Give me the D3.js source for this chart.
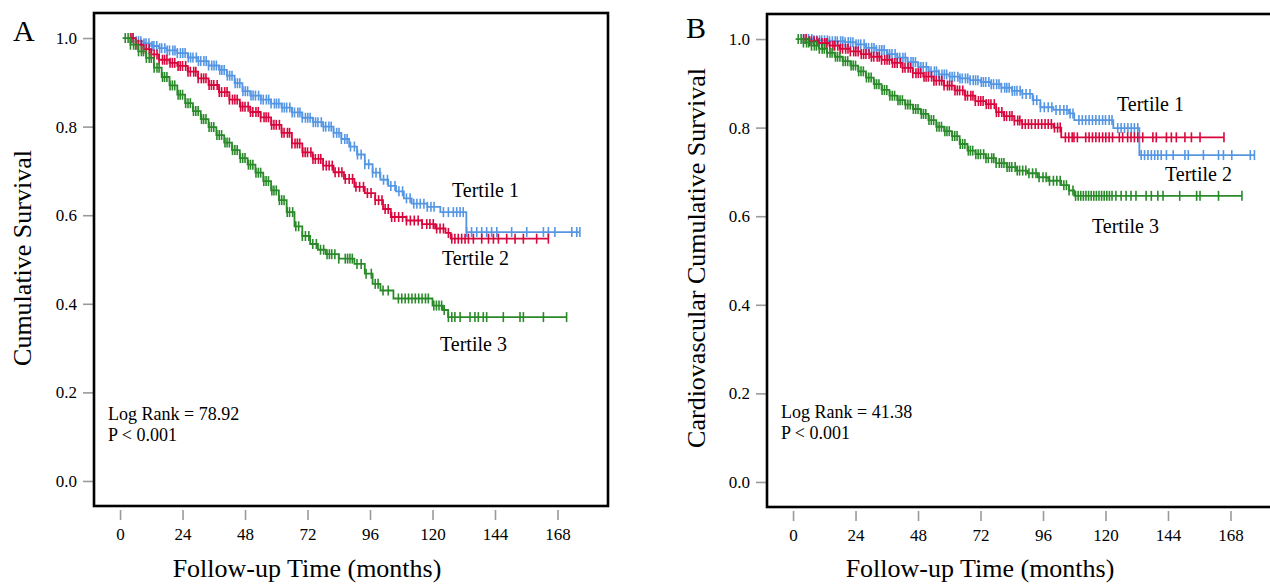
<!DOCTYPE html>
<html><head><meta charset="utf-8">
<script src="https://cdn.jsdelivr.net/npm/d3@7"></script>
<style>
html,body{margin:0;padding:0;background:#fff;}
svg text{font-family:"Liberation Serif","Times New Roman",serif;fill:#000;}
</style></head>
<body>
<svg id="chart" width="1270" height="585"></svg>
<script>
// ---------- DATA ----------
const xTicks = [0, 24, 48, 72, 96, 120, 144, 168];
const yTicks = [0.0, 0.2, 0.4, 0.6, 0.8, 1.0];
const seriesNames = ["Tertile 1", "Tertile 2", "Tertile 3"];
const seriesColors = ["#5596E4", "#D8073D", "#2A8A2A"];

// Panel A: all-cause survival. Knots = [month, survival after event]
const A1_steps = [[3,1.0],[6,0.993],[9,0.988],[12,0.982],[15,0.977],[18,0.972],[22,0.966],[26,0.956],[30,0.948],[34,0.938],[38,0.928],[41,0.915],[44,0.898],[47,0.880],[50,0.870],[54,0.861],[58,0.852],[62,0.843],[66,0.832],[70,0.820],[74,0.810],[78,0.800],[82,0.786],[85,0.772],[88,0.755],[91,0.737],[94,0.715],[97,0.696],[100,0.680],[103,0.666],[106,0.654],[109,0.638],[112,0.626],[118,0.619],[123,0.607],[133,0.562]];
const A1_censor = [4,5,6.2,7.1,8,9.2,10,11.1,12.3,13,14.1,15.2,16,17.2,18.1,19,20.3,21.1,22,23.2,24.1,25,26.2,27.1,28,29.3,30.1,31,32.2,33.1,34,35.2,36.1,37,38.3,39.1,40,41.2,42.1,43,44.2,45.1,46,47.2,48.1,49,50.3,51.1,52,53.2,54.1,55,56.2,57.1,58,59.3,60.1,61,62.2,63.1,64,65.2,66.1,67,68.3,69.1,70,71.2,72.1,73,74.2,75.1,76,77.3,78.1,79,80.2,81.1,82,83.2,84.1,85,86.3,87.2,88.5,90,91.2,92.6,94,95.5,97,98.3,99.8,101.2,102.7,104,105.6,107.1,108.5,110,111.4,112.8,114,115.3,116.7,118,119.4,120.6,124.2,126.1,128,129.3,130.6,131.8,133.1,135,137,138.9,140.8,142.7,144.7,150.4,156.2,162.6,164.5,167,173.5,175.4,176.6];

const A2_steps = [[3,1.0],[6,0.985],[9,0.975],[12,0.963],[15,0.951],[19,0.944],[22,0.937],[26,0.924],[30,0.909],[34,0.894],[38,0.878],[42,0.861],[46,0.845],[50,0.833],[54,0.821],[58,0.804],[62,0.786],[66,0.762],[70,0.742],[74,0.727],[78,0.712],[82,0.697],[86,0.682],[90,0.664],[94,0.650],[98,0.634],[101,0.614],[104,0.596],[110,0.588],[116,0.580],[121,0.570],[125,0.560],[127,0.547]];
const A2_censor = [4.2,5,6.1,7,8.2,9,10.1,11.2,12,13.1,14.2,15,16.3,17.1,18,19.2,20.1,21,22.3,23.1,24,25.2,26.1,27,28.3,29.1,30,31.2,32.1,33,34.2,35.1,36,37.3,38.1,39,40.2,41.1,42,43.2,44.1,45,46.3,47.1,48,49.2,50.1,51,52.2,53.1,54,55.3,56.1,57,58.2,59.1,60,61.2,62.1,63,64.3,65.1,66,67.2,68.1,69,70.2,71.1,72,73.3,74.1,75,76.2,77.1,78,79.2,80.3,81.5,82.6,84,85.2,86.5,88,89.3,90.6,92,93.5,95,96.4,98,99.3,100.6,101.8,103,104.3,105.5,107,108.5,110,111.5,113,114.5,116,117.8,119,120.3,121.6,122.9,124.2,126.1,127.4,128.6,129.9,131.2,132.5,133.8,135.7,138.9,141.5,143.4,145.3,148.5,151.7,154.9,160,164.5];

const A3_steps = [[1,1.0],[4,0.985],[7,0.970],[10,0.955],[13,0.933],[16,0.912],[19,0.893],[22,0.872],[25,0.853],[28,0.835],[31,0.817],[34,0.799],[37,0.781],[40,0.764],[43,0.747],[46,0.729],[49,0.714],[52,0.696],[55,0.677],[58,0.656],[61,0.634],[64,0.607],[67,0.575],[70,0.553],[73,0.535],[76,0.522],[79,0.512],[84,0.502],[90,0.490],[94,0.468],[97,0.445],[100,0.430],[105,0.412],[120,0.396],[124,0.386],[126,0.370]];
const A3_censor = [2,3.1,4,5.2,6,7.1,8.2,9,10.1,11.2,12,13.1,14.2,15,16.3,17.1,18,19.2,20.1,21,22.3,23.1,24,25.2,26.1,27,28.2,29.1,30,31.3,32.1,33,34.2,35.1,36,37.2,38.1,39,40.3,41.1,42,43.2,44.1,45,46.2,47.1,48,49.3,50.1,51,52.2,53.1,54,55.2,56.1,57,58.3,59.1,60,61.2,62.1,63,64.2,65.1,66.3,67.5,68.6,70,71.2,72.5,74,75.4,77,78.2,79.5,80.4,81.3,82.5,84,86.5,87.4,88.3,89.2,91,92.6,94.5,96.5,98,99.1,101,103,106.9,108.2,109.5,110.8,112.1,113.4,114.7,116,117.3,118.4,120.5,121.5,122.5,123.5,124.5,126.1,127.4,128.6,130.6,134.4,136.3,137.6,139.5,140.8,147.2,153.6,154.9,162.6,171.5];

// Panel B: cardiovascular survival
const B1_steps = [[3,1.0],[8,0.997],[14,0.995],[20,0.993],[24,0.988],[28,0.980],[32,0.975],[36,0.966],[40,0.958],[44,0.948],[48,0.937],[52,0.927],[56,0.920],[60,0.915],[64,0.911],[68,0.907],[72,0.903],[76,0.898],[80,0.890],[84,0.883],[88,0.876],[92,0.862],[95,0.846],[100,0.840],[106,0.832],[108,0.817],[123,0.799],[133,0.738]];
const B1_censor = [4,5.1,6,7.2,8,9.1,10.2,11,12.1,13.2,14,15.1,16.2,17,18.3,19.1,20,21.2,22.1,23,24.2,25.1,26,27.3,28.1,29,30.2,31.1,32,33.2,34.1,35,36.3,37.1,38,39.2,40.1,41,42.2,43.1,44,45.3,46.1,47,48.2,49.1,50,51.2,52.1,53,54.3,55.1,56,57.2,58.1,59,60.2,61.1,62,63.3,64.1,65,66.2,67.1,68,69.2,70.1,71,72.3,73.1,74,75.2,76.1,77,78.2,79.1,80,81.3,82.1,83,84.2,85.1,86,87.2,88.1,89.5,91,92.3,93.6,95,96.5,98,99.4,101,102.5,104,105.2,106.4,107.5,109.8,111.1,112.4,113.7,115,116.3,117.6,118.9,120,121.4,122.5,124.7,126,127.3,128.6,129.9,131.1,132.4,133.7,135,136.3,137.6,138.9,140.1,141.4,143.4,146,150.5,151.8,157.6,163.4,165.3,168.5,175.6,177.2];

const B2_steps = [[3,1.0],[6,0.995],[10,0.991],[14,0.985],[18,0.978],[22,0.972],[26,0.966],[30,0.960],[34,0.953],[38,0.946],[42,0.935],[46,0.923],[50,0.915],[54,0.906],[58,0.895],[62,0.884],[66,0.872],[70,0.860],[74,0.853],[78,0.835],[81,0.826],[85,0.816],[88,0.808],[100,0.800],[103,0.778]];
const B2_censor = [4.1,5,6.2,7,8.1,9.2,10,11.1,12.2,13,14.1,15.3,16,17.2,18.1,19,20.2,21.1,22,23.3,24.1,25,26.2,27.1,28,29.2,30.1,31,32.3,33.1,34,35.2,36.1,37,38.2,39.1,40,41.3,42.1,43,44.2,45.1,46,47.2,48.1,49,50.3,51.1,52,53.2,54.1,55,56.2,57.1,58,59.3,60.1,61,62.2,63.1,64,65.2,66.1,67,68.3,69.1,70,71.2,72.1,73,74.2,75.1,76,77.3,78.1,79,80.2,81.1,82,83.2,84.1,85,86.3,87.1,88,89.2,90.4,91.6,93,94.2,95.5,96.8,98,99.2,100.4,101.6,102.6,104.6,105.9,107.2,107.9,109.2,112.4,113.7,115,116.3,117.6,118.9,120.1,121.4,122.7,125.3,126.6,128.5,129.8,131.1,132.4,134.3,138.2,139.5,143.4,145.3,147.2,150.5,153,156.3,165.5];

const B3_steps = [[1,1.0],[4,0.992],[7,0.985],[10,0.978],[13,0.969],[16,0.960],[19,0.950],[22,0.940],[25,0.927],[28,0.913],[31,0.898],[34,0.885],[37,0.872],[40,0.862],[43,0.852],[46,0.842],[49,0.831],[52,0.817],[55,0.802],[58,0.792],[61,0.781],[64,0.763],[67,0.748],[70,0.740],[74,0.731],[78,0.720],[82,0.711],[86,0.703],[90,0.697],[94,0.688],[98,0.680],[103,0.670],[106,0.658],[108,0.646]];
const B3_censor = [2,3.1,4,5.2,6,7.1,8.2,9,10.1,11.2,12,13.1,14.2,15,16.3,17.1,18,19.2,20.1,21,22.3,23.1,24,25.2,26.1,27,28.2,29.1,30,31.3,32.1,33,34.2,35.1,36,37.2,38.1,39,40.3,41.1,42,43.2,44.1,45,46.2,47.1,48,49.3,50.1,51,52.2,53.1,54,55.2,56.1,57,58.3,59.1,60,61.2,62.1,63,64.2,65.1,66,67.3,68.1,69,70.2,71.1,72,73.2,74.1,75,76.3,77.1,78,79.2,80.1,81,82.2,83.1,84,85.3,86.1,87,88.2,89.4,90.6,92,93.3,94.5,96,97.2,98.5,100,101.3,102.6,104,105,106,107.5,108.5,109.5,110.5,111.5,112.5,113.5,114.5,115.5,116.5,117.5,118.5,119.5,120.5,121.5,122.5,124,126,127.9,129.8,131.7,135.6,137.6,140.1,142.1,148.5,155,156.3,163.4,172.4];

// ---------- DRAW ----------
const svg = d3.select("#chart");

function survAt(steps, t) {
  let s = steps[0][1];
  for (const k of steps) { if (k[0] <= t) s = k[1]; else break; }
  return s;
}

function drawPanel(p) {
  const g = svg.append("g").attr("transform", `translate(${p.dx},${p.dy})`);
  const L = 94, R = 608, T = 13, B = 506;
  const x = d3.scaleLinear().domain([-10, 187.4]).range([L, R]);
  const y = d3.scaleLinear().domain([-0.0565, 1.0565]).range([B, T]);

  // y ticks
  const yAxis = d3.axisLeft(y).tickValues(yTicks).tickFormat(d3.format(".1f")).tickSize(11).tickPadding(6);
  const ya = g.append("g").attr("transform", `translate(${L},0)`).call(yAxis);
  ya.select(".domain").remove();
  ya.selectAll(".tick line").attr("stroke", "#9a9a9a").attr("stroke-width", 1.6);
  ya.selectAll(".tick text").attr("font-size", 17).attr("font-family", "Liberation Serif, serif").attr("fill", "#000");

  // x ticks
  const xAxis = d3.axisBottom(x).tickValues(xTicks).tickSize(10).tickPadding(8);
  const xa = g.append("g").attr("transform", `translate(0,${B + 4})`).call(xAxis);
  xa.select(".domain").remove();
  xa.selectAll(".tick line").attr("stroke", "#9a9a9a").attr("stroke-width", 1.6);
  xa.selectAll(".tick text").attr("font-size", 17).attr("font-family", "Liberation Serif, serif").attr("fill", "#000");

  // curves
  const line = d3.line().x(d => x(d[0])).y(d => y(d[1])).curve(d3.curveStepAfter);
  p.series.forEach((s, i) => {
    const end = s.censor[s.censor.length - 1];
    const pts = s.steps.concat([[end, s.steps[s.steps.length - 1][1]]]);
    g.append("path").attr("d", line(pts)).attr("fill", "none")
      .attr("stroke", seriesColors[i]).attr("stroke-width", 1.8);
    g.append("g").selectAll("line").data(s.censor).join("line")
      .attr("x1", d => x(d)).attr("x2", d => x(d))
      .attr("y1", d => y(survAt(s.steps, d)) - 5)
      .attr("y2", d => y(survAt(s.steps, d)) + 5)
      .attr("stroke", seriesColors[i]).attr("stroke-width", 1.6);
  });

  // frame
  g.append("rect").attr("x", L).attr("y", T).attr("width", R - L).attr("height", B - T)
    .attr("fill", "none").attr("stroke", "#000").attr("stroke-width", 2.6);

  // labels
  p.labels.forEach((lb, i) => {
    g.append("text").attr("x", lb[0]).attr("y", lb[1]).attr("font-size", 20).text(seriesNames[i]);
  });
  g.append("text").attr("x", 108).attr("y", p.statY).attr("font-size", 18).text(p.stat);
  g.append("text").attr("x", 108).attr("y", p.statY + 21).attr("font-size", 18).text("P < 0.001");

  g.append("text").attr("x", 307).attr("y", 577 - p.dy).attr("text-anchor", "middle").attr("font-size", 26)
    .text("Follow-up Time (months)");
  g.append("text").attr("transform", `translate(${p.ytX},${p.ytY}) rotate(-90)`)
    .attr("text-anchor", "middle").attr("font-size", 26).text(p.yTitle);
  g.append("text").attr("x", 13).attr("y", p.letterY).attr("font-size", 30).text(p.letter);
}

drawPanel({
  dx: 0, dy: 0, letter: "A", letterY: 41,
  yTitle: "Cumulative Survival", ytX: 31, ytY: 258,
  stat: "Log Rank = 78.92", statY: 420,
  labels: [[452, 197], [442, 265], [440, 351]],
  series: [{steps: A1_steps, censor: A1_censor}, {steps: A2_steps, censor: A2_censor}, {steps: A3_steps, censor: A3_censor}]
});
drawPanel({
  dx: 673, dy: 1, letter: "B", letterY: 37,
  yTitle: "Cardiovascular Cumulative Survival", ytX: 32, ytY: 257,
  stat: "Log Rank = 41.38", statY: 417,
  labels: [[444, 110], [492, 180], [419, 232]],
  series: [{steps: B1_steps, censor: B1_censor}, {steps: B2_steps, censor: B2_censor}, {steps: B3_steps, censor: B3_censor}]
});
</script>
</body></html>
